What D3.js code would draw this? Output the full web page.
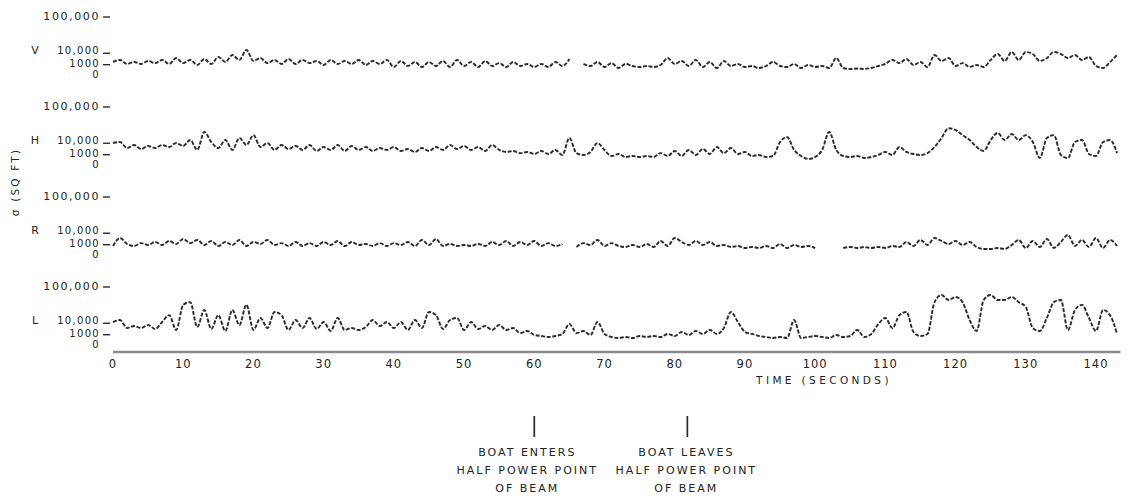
<!DOCTYPE html>
<html>
<head>
<meta charset="utf-8">
<script src="https://cdn.jsdelivr.net/npm/d3@7"></script>
<style>
  html, body { margin: 0; padding: 0; background: #fff; }
  svg { display: block; }
  text { font-family: "DejaVu Sans", sans-serif; fill: #222; }
</style>
</head>
<body>
<svg id="chart" width="1129" height="499"></svg>
<script>
// ---------------- DATA ----------------
// Radar cross section sigma (sq ft), one reading per second, t = 0..143 s
const seriesNames = ["V", "H", "R", "L"];

const valuesV = [
  2300,3600,1300,2300,1300,2900,1700,3600,1300,5100,
  1700,3600,900,4300,1300,6000,2300,8000,3600,14200,
  2900,5100,1700,3600,1300,4300,1300,3600,1700,2900,
  900,3600,1300,2900,1300,3600,900,2900,1300,3600,
  320,2900,570,2300,320,2300,570,2900,320,3600,
  570,2300,320,2900,570,1700,320,2300,570,1300,
  320,1300,320,2300,570,4300,null,1300,570,2300,
  320,1700,140,1300,570,320,570,320,900,5100,
  1300,2900,570,3600,320,2300,140,2900,570,1300,
  320,570,140,570,2300,570,320,1300,140,900,
  320,570,140,5100,140,40,80,40,140,570,
  1300,3600,1700,4300,900,2300,320,8000,2900,5100,
  570,1700,320,900,320,3600,9100,2900,11500,3600,
  11500,9100,2900,5100,11500,9100,5100,8000,3600,6000,
  570,140,2300,8000
];

const valuesH = [
  10300,11500,5100,8000,4300,7000,5100,8000,6000,10300,
  7000,14200,3600,28000,11500,5100,14200,3600,17200,8000,
  22000,6000,10300,3600,8000,4300,7000,3600,8000,2900,
  6000,3600,8000,2900,7000,3600,6000,2900,5100,3600,
  6000,2900,4300,2300,5100,2900,6000,3600,8000,4300,
  7000,3600,6000,2900,8000,3600,2300,2900,1700,2300,
  1300,2900,1300,3600,900,17200,1700,900,2300,10300,
  3600,570,1300,320,570,320,570,320,1700,570,
  2900,570,3600,900,4300,1300,6000,1700,5100,1300,
  2300,570,900,320,570,11500,18800,3600,570,40,
  320,3600,28000,3600,570,320,570,140,320,900,
  2300,900,6000,2300,1300,900,1700,6000,17200,36000,
  32000,22000,14200,6000,2900,14200,26000,14200,24000,14200,
  22000,11500,140,17200,22000,900,140,11500,14200,1300,
  570,11500,14200,1700
];

const valuesR = [
  570,5100,1300,570,1700,900,2300,900,2900,1300,
  4300,1700,3600,900,2900,570,2300,900,3600,570,
  2300,1300,3600,900,1700,570,2300,570,1700,570,
  2300,900,2900,570,2300,900,1300,570,1700,570,
  1700,900,2300,570,3600,900,4300,570,1300,570,
  900,570,1300,570,2300,900,2900,570,2300,900,
  2900,570,1700,570,1300,null,320,1700,900,3600,
  570,1700,570,320,900,320,1300,320,2900,570,
  5100,2300,900,2900,900,2300,570,900,320,570,
  140,320,140,570,140,1300,140,900,320,570,
  140,null,null,null,140,320,140,320,140,320,
  140,570,320,2300,570,3600,900,5100,2900,1300,
  2900,900,2300,320,40,40,140,40,900,3600,
  140,2900,320,4300,140,2300,8000,570,3600,320,
  5100,140,3600,570
];

const valuesL = [
  11500,14200,5100,7000,5100,8000,4300,11500,22000,3600,
  44000,51000,6000,32000,4300,22000,2900,32000,8000,44000,
  3600,17200,5100,28000,22000,3600,14200,5100,17200,4300,
  11500,2900,17200,3600,5100,3600,6000,14200,7000,11500,
  5100,11500,3600,14200,5100,28000,22000,4300,14200,17200,
  3600,11500,4300,7000,3600,8000,3600,5100,1700,2900,
  900,570,320,570,1300,9100,1700,2900,900,11500,
  1300,320,140,320,140,570,320,570,320,1300,
  570,2300,900,2900,1300,3600,1300,5100,28000,11500,
  2300,1300,570,320,140,320,140,14200,140,320,
  570,320,140,900,320,570,3600,320,1300,9100,
  17200,5100,22000,28000,2300,570,1300,51000,72000,57000,
  66000,51000,14200,2900,57000,72000,57000,57000,66000,51000,
  38800,5100,2900,17200,51000,57000,3600,32000,44000,17200,
  2900,32000,22000,1300
];

const seriesValues = [valuesV, valuesH, valuesR, valuesL];

const yTickValues = [100000, 10000, 1000, 0];
const yTickLabels = ["100,000", "10,000", "1000", "0"];
const xTickValues = [0,10,20,30,40,50,60,70,80,90,100,110,120,130,140];

const events = [
  { t: 60,   lines: ["BOAT ENTERS", "HALF POWER POINT", "OF BEAM"] },
  { t: 81.8, lines: ["BOAT LEAVES", "HALF POWER POINT", "OF BEAM"] }
];

// ---------------- LAYOUT ----------------
const svg = d3.select("#chart");
const x = d3.scaleLinear().domain([0, 140]).range([113, 1096]);
const panelTop0 = 17, panelStep = 90, panelHeight = 53;
const ink = "#2a2a2a";

seriesNames.forEach((name, i) => {
  const top = panelTop0 + i * panelStep;
  const y = d3.scaleSqrt().domain([0, 100000]).range([top + panelHeight, top]);
  const g = svg.append("g");

  // tick labels (crowded lettering, as on the original record)
  const labelShift = { 100000: 0, 10000: -2, 1000: -1, 0: 5 };
  const labelSize = { 100000: 11, 10000: 10, 1000: 10, 0: 10 };
  yTickValues.forEach((v, k) => {
    g.append("text")
      .attr("x", 100).attr("y", y(v) + labelShift[v])
      .attr("text-anchor", "end").attr("dominant-baseline", "middle")
      .attr("font-size", labelSize[v]).attr("letter-spacing", v === 100000 ? 1.6 : 1.3)
      .text(yTickLabels[k]);
    if (v > 0) {
      g.append("line")
        .attr("x1", 103).attr("x2", 110)
        .attr("y1", y(v)).attr("y2", y(v))
        .attr("stroke", ink).attr("stroke-width", 1.4);
    }
  });

  g.append("text")
    .attr("x", 35).attr("y", y(10000) - 2)
    .attr("text-anchor", "middle").attr("dominant-baseline", "middle")
    .attr("font-size", 11)
    .text(name);

  const data = seriesValues[i].map((v, t) => ({ t, v }));
  const line = d3.line()
    .defined(d => d.v !== null)
    .x(d => x(d.t))
    .y(d => y(d.v))
    .curve(d3.curveMonotoneX);

  g.append("path")
    .datum(data)
    .attr("d", line)
    .attr("fill", "none")
    .attr("stroke", ink)
    .attr("stroke-width", 1.9)
    .attr("stroke-dasharray", "4 1.6")
    .attr("stroke-linejoin", "round");
});

// y-axis title
svg.append("text")
  .attr("transform", "translate(16,182) rotate(-90)")
  .attr("text-anchor", "middle").attr("dominant-baseline", "middle")
  .attr("font-size", 10.5).attr("letter-spacing", 2.2)
  .text("σ (SQ FT)");

// time axis
const axisY = 352;
svg.append("line")
  .attr("x1", x(0)).attr("x2", x(143.5))
  .attr("y1", axisY).attr("y2", axisY)
  .attr("stroke", "#8c8c8c").attr("stroke-width", 2.4);

svg.append("g").selectAll("text")
  .data(xTickValues).join("text")
  .attr("x", d => x(d)).attr("y", 364)
  .attr("text-anchor", "middle").attr("dominant-baseline", "middle")
  .attr("font-size", 11.5).attr("letter-spacing", 1)
  .text(d => d);

svg.append("text")
  .attr("x", 824).attr("y", 381)
  .attr("text-anchor", "middle").attr("dominant-baseline", "middle")
  .attr("font-size", 10.5).attr("letter-spacing", 3.4)
  .text("TIME (SECONDS)");

// event markers
const textCenterShift = [-7, -1];
events.forEach((e, k) => {
  const cx = x(e.t);
  svg.append("line")
    .attr("x1", cx).attr("x2", cx).attr("y1", 416).attr("y2", 437)
    .attr("stroke", ink).attr("stroke-width", 1.7);
  e.lines.forEach((s, j) => {
    svg.append("text")
      .attr("x", cx + textCenterShift[k]).attr("y", 453 + j * 18)
      .attr("text-anchor", "middle").attr("dominant-baseline", "middle")
      .attr("font-size", 11).attr("letter-spacing", 2)
      .text(s);
  });
});
</script>
</body>
</html>
